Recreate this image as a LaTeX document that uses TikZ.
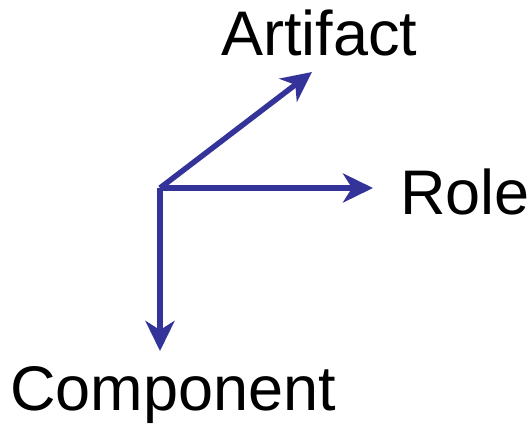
\documentclass[tikz,border=0pt]{standalone}
\usepackage{fontspec}
\setmainfont{Liberation Sans}
\usetikzlibrary{arrows.meta}
\definecolor{axisblue}{HTML}{333399}
\begin{document}
\begin{tikzpicture}[x=1pt,y=-1pt,
  axis/.style={draw=axisblue, line width=5.5pt, -{Stealth[length=30pt,width=29pt,inset=9pt]}},
  lbl/.style={inner sep=0pt, anchor=base west, font=\fontsize{63}{75}\selectfont}]
\useasboundingbox (0,0) rectangle (530,426);
\coordinate (o) at (160,188);
\coordinate (ta) at (312,72);
\coordinate (tr) at (373,188);
\coordinate (tc) at (160,351);
\node[lbl] (art) at (221,55) {Artifact};
\node[lbl] (role) at (400,214) {Role};
\node[lbl] (comp) at (10,410) {Component};
\draw[axis] (o) -- (ta);
\draw[axis] (o) -- (tr);
\draw[axis] (o) -- (tc);
\end{tikzpicture}
\end{document}
